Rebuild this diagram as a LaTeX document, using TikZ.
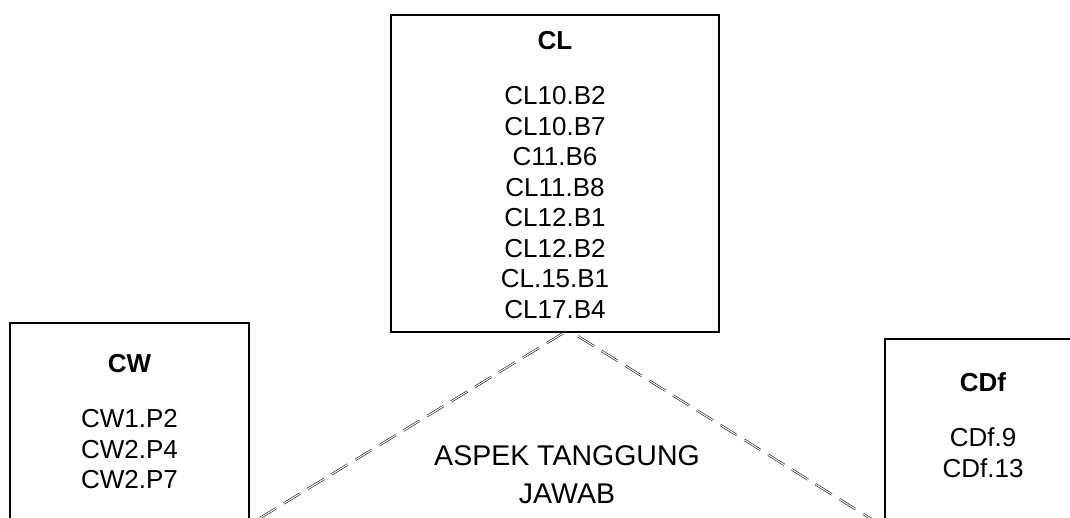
\documentclass[tikz,border=0pt]{standalone}
\usepackage{fontspec}
\setmainfont{Liberation Sans}
\usetikzlibrary{positioning}
\tikzset{
  frame/.style={draw=black, line width=2.2pt, rectangle, inner sep=0pt},
  codelist/.style={align=center, inner sep=0pt, font=\fontsize{26}{30.5}\selectfont},
  link/.style={draw=black, line width=0.55pt, double distance=1.1pt, dash pattern=on 19pt off 9pt},
}
\newcommand{\boxhead}[1]{\textbf{#1}\\[25pt]}

\begin{document}
\begin{tikzpicture}[x=1pt,y=-1pt]
  \clip (0,0) rectangle (1070,518);
  \fill[white] (0,0) rectangle (1070,518);

  % Boxes (the lower two run off the page)
  \node[frame, minimum width=328pt, minimum height=317pt, anchor=north] (cl) at (555,14) {};
  \node[frame, minimum width=239pt, minimum height=240pt, anchor=north] (cw) at (129.5,322) {};
  \node[frame, minimum width=196pt, minimum height=220pt, anchor=north] (cdf) at (983,338) {};

  % Codes in each box
  \node[codelist, below=17pt of cl.north] (cllist)
    {\boxhead{CL}CL10.B2\\CL10.B7\\C11.B6\\CL11.B8\\CL12.B1\\CL12.B2\\CL.15.B1\\CL17.B4};
  \node[codelist, below=32pt of cw.north] (cwlist)
    {\boxhead{CW}CW1.P2\\CW2.P4\\CW2.P7};
  \node[codelist, below=34pt of cdf.north] (cdflist)
    {\boxhead{CDf}CDf.9\\CDf.13};

  \node[codelist, font=\fontsize{28.5}{38}\selectfont, anchor=north] (aspek) at (567,445)
    {ASPEK TANGGUNG\\JAWAB};

  % Dashed legs of the triangle
  \coordinate (footL) at (224,540);
  \coordinate (footR) at (905,540);
  \draw[link] ([xshift=8pt]cl.south) -- (footL);
  \draw[link] ([xshift=23pt,yshift=-3pt]cl.south) -- (footR);
\end{tikzpicture}
\end{document}
